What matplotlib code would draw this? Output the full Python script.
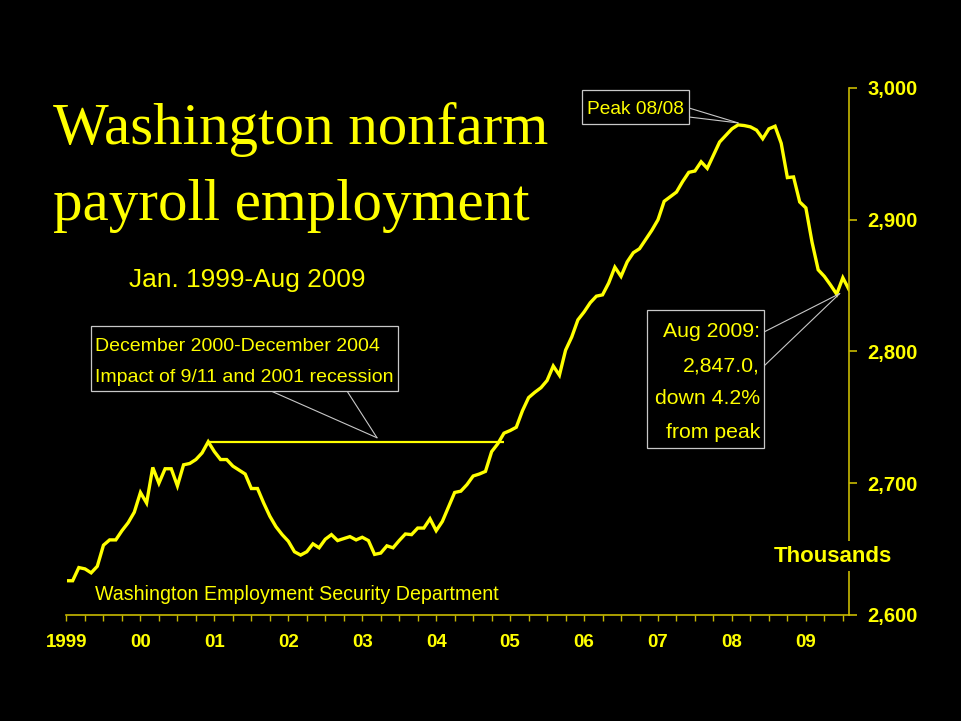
import numpy as np
import matplotlib.pyplot as plt
from matplotlib.patches import Rectangle

# Washington nonfarm payroll employment, thousands, monthly
emp_1999 = [2626, 2626, 2636, 2635, 2632, 2637, 2653, 2657, 2657, 2664, 2670, 2678]
emp_2000 = [2693, 2685, 2712, 2700, 2711, 2711, 2698, 2714, 2715, 2718, 2723, 2731.5]
emp_2001 = [2724, 2718, 2718, 2713, 2710, 2707, 2696, 2696, 2685, 2675, 2667, 2661]
emp_2002 = [2656, 2648, 2645.5, 2648, 2654, 2651, 2657.5, 2661, 2656.5, 2658, 2659.5, 2657]
emp_2003 = [2659, 2656.5, 2646, 2647, 2652.5, 2651, 2656.5, 2661.5, 2661, 2666, 2666, 2673]
emp_2004 = [2664, 2671, 2682, 2693, 2694, 2699, 2705.5, 2707, 2709, 2724, 2730, 2738]
emp_2005 = [2740, 2742.5, 2755, 2765, 2769, 2772.5, 2778, 2789, 2782, 2801, 2811, 2824]
emp_2006 = [2830, 2837, 2842, 2843, 2852, 2864, 2857, 2868, 2875, 2878, 2885, 2892]
emp_2007 = [2900, 2914, 2917.5, 2921, 2929, 2936, 2937, 2944, 2939, 2949, 2959, 2964]
emp_2008 = [2969, 2972, 2971.5, 2970.5, 2968, 2961.5, 2969, 2971, 2958, 2932, 2932.5, 2913.5]
emp_2009 = [2909, 2883, 2862, 2857, 2850.5, 2843.5, 2856, 2847.0]

year_ticks = list(range(1999, 2010))
year_labels = ['1999', '00', '01', '02', '03', '04', '05', '06', '07', '08', '09']
y_ticks = [2600, 2700, 2800, 2900, 3000]

emp = np.array(emp_1999 + emp_2000 + emp_2001 + emp_2002 + emp_2003 + emp_2004
               + emp_2005 + emp_2006 + emp_2007 + emp_2008 + emp_2009)
dates = 1999 + np.arange(len(emp)) / 12.0

YEL = '#FFFF00'
AXC = '#C8BA00'
EDGE = '#C8C8C8'
sans = 'Liberation Sans'

W, H = 961, 721
def fx(x):
    return x / W
def fy(y):
    return 1 - y / H

fig = plt.figure(figsize=(9.61, 7.21), dpi=100, facecolor='black')
ax = fig.add_axes([fx(66.5), fy(615), (849 - 66.5) / W, (615 - 88) / H])
ax.set_facecolor('black')

# recession span: Dec 2000 level carried over to Dec 2004
i0, i1 = 23, 71
ax.hlines(emp[i0], dates[i0], dates[i1], color=YEL, lw=1.6)
ax.plot(dates, emp, color=YEL, lw=2.4, solid_joinstyle='miter')

ax.set_xlim(dates[0], dates[-1])
ax.set_ylim(2600, 3000)

for s in ['top', 'left']:
    ax.spines[s].set_visible(False)
for s in ['bottom', 'right']:
    ax.spines[s].set_color(AXC)
    ax.spines[s].set_linewidth(1.2)

ax.yaxis.tick_right()
ax.set_yticks(y_ticks)
ax.set_yticklabels(['{:,}'.format(v) for v in y_ticks])
ax.tick_params(axis='y', direction='out', length=6, width=1.2, color=AXC,
               labelcolor=YEL, pad=7)

ax.set_xticks(year_ticks)
ax.set_xticklabels(year_labels)
quarters = [y + q / 4 for y in range(1999, 2010) for q in (1, 2, 3) if y + q / 4 <= dates[-1]]
ax.set_xticks(quarters, minor=True)
ax.tick_params(axis='x', which='both', direction='out', length=4.5, width=1.0,
               color=AXC, labelcolor=YEL, pad=9)
for lab in ax.get_xticklabels():
    lab.set_family(sans)
    lab.set_fontweight('bold')
    lab.set_fontsize(13.5)
for lab in ax.get_yticklabels():
    lab.set_family(sans)
    lab.set_fontweight('bold')
    lab.set_fontsize(14.5)

# titles
fig.text(fx(53), fy(144), 'Washington nonfarm', color=YEL, family='Liberation Serif',
         fontsize=42.5, va='baseline', ha='left')
fig.text(fx(53), fy(220), 'payroll employment', color=YEL, family='Liberation Serif',
         fontsize=42.5, va='baseline', ha='left')
fig.text(fx(129), fy(287), 'Jan. 1999-Aug 2009', color=YEL, family=sans,
         fontsize=18.9, va='baseline', ha='left')
fig.text(fx(95), fy(600), 'Washington Employment Security Department', color=YEL,
         family=sans, fontsize=14.1, va='baseline', ha='left')
fig.text(fx(833), fy(556), 'Thousands', color=YEL, family=sans, fontsize=16,
         fontweight='bold', va='center', ha='center',
         bbox=dict(facecolor='black', edgecolor='none', pad=3))


def box(x0, y0, x1, y1):
    fig.add_artist(Rectangle((fx(x0), fy(y1)), (x1 - x0) / W, (y1 - y0) / H,
                             transform=fig.transFigure, facecolor='black',
                             edgecolor=EDGE, lw=0.9, zorder=4))


def leader(tip, start):
    ax.annotate('', xy=tip, xycoords='data', xytext=(fx(start[0]), fy(start[1])),
                textcoords='figure fraction', annotation_clip=False,
                arrowprops=dict(arrowstyle='-', color=EDGE, lw=0.8,
                                shrinkA=0, shrinkB=0))


# recession callout
tip_rec = (2003.2, emp[i0] + 3)
leader(tip_rec, (271, 391))
leader(tip_rec, (347, 391))
box(91, 326, 398, 391)
fig.text(fx(95), fy(351), 'December 2000-December 2004', color=YEL, family=sans,
         fontsize=14, va='baseline', ha='left', zorder=5)
fig.text(fx(95), fy(382), 'Impact of 9/11 and 2001 recession', color=YEL, family=sans,
         fontsize=14, va='baseline', ha='left', zorder=5)

# peak callout
ip = int(np.argmax(emp))
tip_peak = (dates[ip], emp[ip] + 1.5)
leader(tip_peak, (689, 108))
leader(tip_peak, (689, 117))
box(582, 90, 689, 124)
fig.text(fx(587), fy(114), 'Peak 08/08', color=YEL, family=sans, fontsize=13.8,
         va='baseline', ha='left', zorder=5)

# latest value callout
tip_last = (dates[-2] - 0.5 / 12, emp[-1] - 3)
leader(tip_last, (764, 332))
leader(tip_last, (764, 366))
box(647, 310, 764, 448)
drop = (1 - emp[-1] / emp.max()) * 100
lines = ['Aug 2009:', '{:,.1f},'.format(emp[-1]), 'down {:.1f}%'.format(drop), 'from peak']
for t, yb in zip(lines, [337, 371, 404, 438]):
    fig.text(fx(760), fy(yb), t, color=YEL, family=sans, fontsize=15.3,
             va='baseline', ha='right', zorder=5)

plt.savefig('out.png', dpi=100, facecolor='black')
